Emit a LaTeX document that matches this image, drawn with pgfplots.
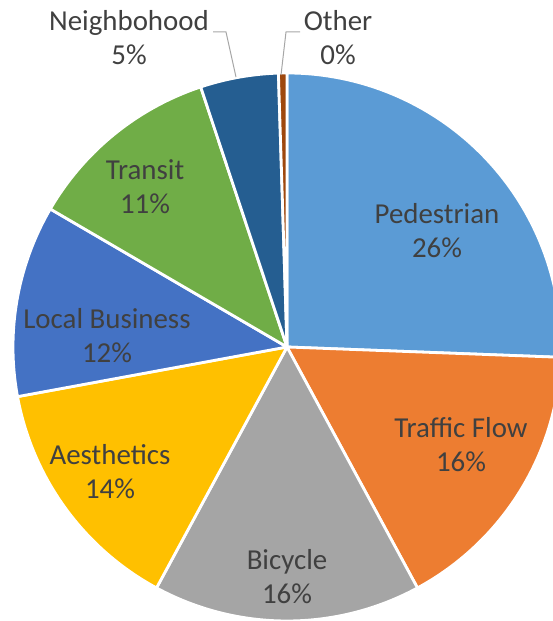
\documentclass[border=0pt]{standalone}
\usepackage{pgfplots}
\usepackage{pgfplotstable}
\pgfplotsset{compat=1.18}
\usepackage{fontspec}
\setmainfont{Carlito}
\definecolor{cPed}{HTML}{5B9BD5}
\definecolor{cTra}{HTML}{ED7D31}
\definecolor{cBic}{HTML}{A5A5A5}
\definecolor{cAes}{HTML}{FFC000}
\definecolor{cLoc}{HTML}{4472C4}
\definecolor{cTrn}{HTML}{70AD47}
\definecolor{cNei}{HTML}{255E91}
\definecolor{cOth}{HTML}{9E480E}
\definecolor{txt}{HTML}{404040}
\definecolor{lead}{HTML}{A6A6A6}
\pgfplotstableread{
name value color
Pedestrian 25.6 cPed
TrafficFlow 16.5 cTra
Bicycle 15.8 cBic
Aesthetics 14.2 cAes
LocalBusiness 11.3 cLoc
Transit 11.5 cTrn
Neighborhood 4.6 cNei
Other 0.5 cOth
}\piedata
\begin{document}
\begin{tikzpicture}
\begin{axis}[
  name=ax,
  x=1bp, y=1bp, scale only axis,
  xmin=0, xmax=553, ymin=-621, ymax=0,
  axis lines=none, ticks=none,
  clip=true,
]
\pgfplotstablegetrowsof{\piedata}
\pgfmathtruncatemacro\N{\pgfplotsretval-1}
\xdef\cum{0}
\pgfplotsforeachungrouped \i in {0,...,\N}{
  \pgfplotstablegetelem{\i}{value}\of\piedata \let\v\pgfplotsretval
  \pgfplotstablegetelem{\i}{color}\of\piedata \let\c\pgfplotsretval
  \pgfmathsetmacro\a{90-3.6*\cum}
  \pgfmathsetmacro\b{90-3.6*(\cum+\v)}
  \edef\temp{\noexpand\fill[\c, draw=white, line width=2.8bp, line join=round] (axis cs:287,-347) -- ++(\a:274bp) arc[start angle=\a, end angle=\b, radius=274bp] -- cycle;}
  \temp
  \pgfmathsetmacro\cumn{\cum+\v}
  \xdef\cum{\cumn}
}
\begin{scope}[every node/.style={text=txt, font=\fontsize{29}{34}\selectfont, align=center}]
\node at (axis cs:437,-231) {Pedestrian\\26\%};
\node at (axis cs:461,-445) {Traffic Flow\\16\%};
\node at (axis cs:287,-577) {Bicycle\\16\%};
\node at (axis cs:110,-472) {Aesthetics\\14\%};
\node at (axis cs:107,-336) {Local Business\\12\%};
\node at (axis cs:145,-187) {Transit\\11\%};
\node at (axis cs:129,-38) {Neighbohood\\5\%};
\node at (axis cs:338,-38) {Other\\0\%};
\end{scope}
\draw[lead, line width=1bp] (axis cs:213,-32) -- (axis cs:226,-32) -- (axis cs:236,-77);
\draw[lead, line width=1bp] (axis cs:300,-32) -- (axis cs:286,-32) -- (axis cs:281,-75);
\end{axis}
\pgfresetboundingbox
\useasboundingbox (ax.south west) rectangle (ax.north east);
\end{tikzpicture}
\end{document}
